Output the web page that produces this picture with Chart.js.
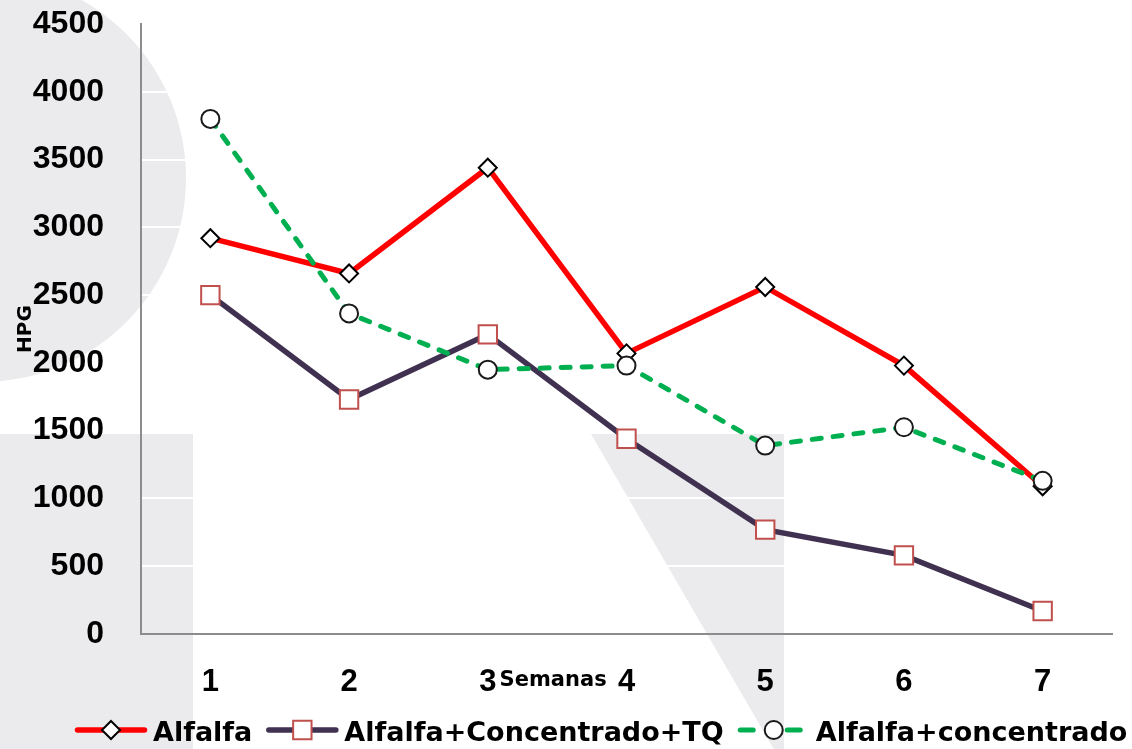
<!DOCTYPE html>
<html>
<head>
<meta charset="utf-8">
<title>HPG por semana</title>
<style>
  html, body { margin: 0; padding: 0; background: #ffffff; }
  canvas { display: block; }
</style>
</head>
<body>
<canvas id="hpg" width="1132" height="749"></canvas>
<script src="https://cdn.jsdelivr.net/npm/chart.js@4.4.1/dist/chart.umd.min.js"></script>
<script>
// Semanas de muestreo (eje X)
const semanas = ['1', '2', '3', '4', '5', '6', '7'];

// HPG por tratamiento
const alfalfa = [2920, 2660, 3440, 2070, 2560, 1980, 1090];
const alfalfaConcentradoTQ = [2500, 1730, 2210, 1440, 770, 580, 170];
const alfalfaConcentrado = [3800, 2365, 1950, 1980, 1390, 1525, 1130];

// Nombres de las series
const nombres = ['Alfalfa', 'Alfalfa+Concentrado+TQ', 'Alfalfa+concentrado'];

// Escala del eje Y
const yMin = 0;
const yMax = 4500;
const yPaso = 500;

const GRIS_FONDO = 'rgb(235,235,237)';
const GRIS_EJE = '#8c8c8c';

// Formas grises decorativas detrás del gráfico
const fondo = {
  id: 'fondo',
  beforeDraw(chart) {
    const { ctx, width, height } = chart;
    ctx.save();
    ctx.fillStyle = '#ffffff';
    ctx.fillRect(0, 0, width, height);
    ctx.fillStyle = GRIS_FONDO;
    ctx.beginPath();
    ctx.arc(-18, 178, 204, 0, Math.PI * 2);
    ctx.fill();
    ctx.fillRect(0, 434, 193, height - 434);
    ctx.beginPath();
    ctx.moveTo(591, 434);
    ctx.lineTo(784, 434);
    ctx.lineTo(784, height);
    ctx.lineTo(591 + 0.58 * (height - 434), height);
    ctx.closePath();
    ctx.fill();
    ctx.restore();
  }
};

// Dibuja un marcador con el estilo de la serie
function marcador(ctx, ds, x, y) {
  const r = ds.pointRadius;
  ctx.save();
  ctx.setLineDash([]);
  ctx.fillStyle = ds.pointBackgroundColor;
  ctx.strokeStyle = ds.pointBorderColor;
  ctx.lineWidth = ds.pointBorderWidth;
  ctx.beginPath();
  if (ds.pointStyle === 'rectRot') {
    ctx.moveTo(x, y - r);
    ctx.lineTo(x + r, y);
    ctx.lineTo(x, y + r);
    ctx.lineTo(x - r, y);
    ctx.closePath();
  } else if (ds.pointStyle === 'rect') {
    const s = Math.SQRT1_2 * r;
    ctx.rect(x - s, y - s, 2 * s, 2 * s);
  } else {
    ctx.arc(x, y, r, 0, Math.PI * 2);
  }
  ctx.fill();
  ctx.stroke();
  ctx.restore();
}

// Leyenda inferior: línea con marcador + nombre
const leyenda = {
  id: 'leyenda',
  afterDraw(chart) {
    const ctx = chart.ctx;
    const y = 730;
    const largo = 72;
    let x = 75;
    ctx.save();
    ctx.font = 'bold 27px "DejaVu Sans"';
    ctx.textBaseline = 'alphabetic';
    ctx.textAlign = 'left';
    chart.data.datasets.forEach((ds) => {
      ctx.save();
      ctx.strokeStyle = ds.borderColor;
      ctx.lineWidth = ds.borderWidth;
      ctx.lineCap = 'round';
      if (ds.borderDash && ds.borderDash.length) {
        ctx.setLineDash([13, 34]);
      }
      ctx.beginPath();
      ctx.moveTo(x + 2.5, y);
      ctx.lineTo(x + largo - 2.5, y);
      ctx.stroke();
      ctx.restore();
      marcador(ctx, ds, x + largo / 2, y);
      x += largo + 6;
      ctx.fillStyle = '#000000';
      ctx.fillText(ds.label, x, y + 11);
      x += ctx.measureText(ds.label).width + 14;
    });
    ctx.restore();
  }
};

// Título del eje X, junto a las etiquetas de las semanas 3 y 4
const tituloX = {
  id: 'tituloX',
  afterDraw(chart) {
    const ctx = chart.ctx;
    const xs = chart.scales.x;
    const x3 = xs.getPixelForValue(2);
    const x4 = xs.getPixelForValue(3);
    ctx.save();
    ctx.font = 'bold 21px "DejaVu Sans"';
    ctx.fillStyle = '#000000';
    ctx.textAlign = 'center';
    ctx.textBaseline = 'middle';
    ctx.fillText('Semanas', (x3 + x4) / 2 - 4, 681);
    ctx.restore();
  }
};

new Chart(document.getElementById('hpg'), {
  type: 'line',
  data: {
    labels: semanas,
    datasets: [
      {
        label: nombres[0],
        data: alfalfa,
        borderColor: '#ff0000',
        borderWidth: 5.5,
        pointStyle: 'rectRot',
        pointRadius: 9,
        pointBackgroundColor: '#ffffff',
        pointBorderColor: '#000000',
        pointBorderWidth: 2,
        order: 2
      },
      {
        label: nombres[1],
        data: alfalfaConcentradoTQ,
        borderColor: '#403151',
        borderWidth: 5.5,
        pointStyle: 'rect',
        pointRadius: 13,
        pointBackgroundColor: '#ffffff',
        pointBorderColor: '#c0504d',
        pointBorderWidth: 2,
        order: 1
      },
      {
        label: nombres[2],
        data: alfalfaConcentrado,
        borderColor: '#00b050',
        borderWidth: 5,
        borderDash: [9, 12],
        borderCapStyle: 'round',
        pointStyle: 'circle',
        pointRadius: 9,
        pointBackgroundColor: '#ffffff',
        pointBorderColor: '#1a1a1a',
        pointBorderWidth: 2,
        order: 0
      }
    ]
  },
  options: {
    responsive: false,
    animation: false,
    events: [],
    layout: { padding: { top: 24, right: 20, left: 0, bottom: 0 } },
    elements: { line: { tension: 0, fill: false } },
    plugins: {
      legend: { display: false },
      tooltip: { enabled: false },
      title: { display: false }
    },
    scales: {
      x: {
        offset: true,
        grid: { display: false, drawTicks: false },
        border: { display: true, color: GRIS_EJE, width: 2 },
        ticks: {
          color: '#000000',
          padding: 30,
          font: { family: '"Liberation Sans"', weight: 'bold', size: 31 }
        },
        afterFit(scale) { scale.height = 115; }
      },
      y: {
        min: yMin,
        max: yMax,
        grid: {
          drawTicks: false,
          lineWidth: 2,
          color: (c) => (c.tick && c.tick.value === 0 ? 'rgba(0,0,0,0)' : '#ffffff')
        },
        border: { display: true, color: GRIS_EJE, width: 2 },
        ticks: {
          stepSize: yPaso,
          color: '#000000',
          padding: 37,
          font: { family: '"Liberation Sans"', weight: 'bold', size: 32 },
          callback: (v) => String(v)
        },
        title: {
          display: true,
          text: 'HPG',
          color: '#000000',
          font: { family: '"DejaVu Sans"', weight: 'bold', size: 20 },
          padding: { top: 14, bottom: 0 }
        },
        afterFit(scale) {
          scale.width = 141;
          scale.paddingTop = 0;
          scale.paddingBottom = 0;
        }
      }
    }
  },
  plugins: [fondo, leyenda, tituloX]
});
</script>
</body>
</html>
